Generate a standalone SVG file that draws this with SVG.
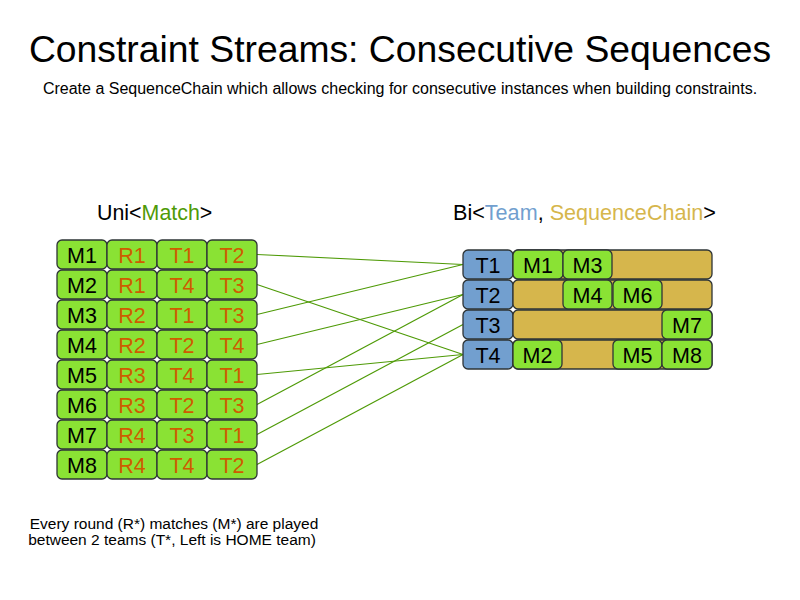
<svg xmlns="http://www.w3.org/2000/svg" width="800" height="600" viewBox="0 0 800 600">
<style>
text{font-family:"Liberation Sans",Arial,sans-serif}
.m{fill:#8ae234;stroke:#2e3436;stroke-width:1.3}
.t{fill:#729fcf;stroke:#2e3436;stroke-width:1.3}
.c{fill:#d6b64c;stroke:#2e3436;stroke-width:1.3}
.lbl{font-size:21.5px;text-anchor:middle;fill:#000}
.o{fill:#ce5c00}
.ln{stroke:#4e9a06;stroke-width:1.2;fill:none}
</style>
<rect width="800" height="600" fill="#fff"/>
<text x="400" y="62" font-size="37.3" text-anchor="middle">Constraint Streams: Consecutive Sequences</text>
<text x="400" y="94" font-size="16" text-anchor="middle">Create a SequenceChain which allows checking for consecutive instances when building constraints.</text>
<text x="97" y="220" font-size="21.4">Uni&lt;<tspan fill="#4e9a06">Match</tspan>&gt;</text>
<text x="453" y="220" font-size="21.6">Bi&lt;<tspan fill="#729fcf">Team</tspan>, <tspan fill="#d6b64c">SequenceChain</tspan>&gt;</text>
<g id="connectors">
<line class="ln" x1="257" y1="254.5" x2="463" y2="264.5"/>
<line class="ln" x1="257" y1="284.5" x2="463" y2="354.5"/>
<line class="ln" x1="257" y1="314.5" x2="463" y2="264.5"/>
<line class="ln" x1="257" y1="344.5" x2="463" y2="294.5"/>
<line class="ln" x1="257" y1="374.5" x2="463" y2="354.5"/>
<line class="ln" x1="257" y1="404.5" x2="463" y2="294.5"/>
<line class="ln" x1="257" y1="434.5" x2="463" y2="324.5"/>
<line class="ln" x1="257" y1="464.5" x2="463" y2="354.5"/>
</g>
<g id="match-M1"><rect class="m" x="57" y="240" width="50" height="29" rx="5"/><rect class="m" x="107" y="240" width="50" height="29" rx="5"/><rect class="m" x="157" y="240" width="50" height="29" rx="5"/><rect class="m" x="207" y="240" width="50" height="29" rx="5"/>
<text class="lbl" x="82" y="262.5">M1</text><text class="lbl o" x="132" y="262.5">R1</text><text class="lbl o" x="182" y="262.5">T1</text><text class="lbl o" x="232" y="262.5">T2</text></g>
<g id="match-M2"><rect class="m" x="57" y="270" width="50" height="29" rx="5"/><rect class="m" x="107" y="270" width="50" height="29" rx="5"/><rect class="m" x="157" y="270" width="50" height="29" rx="5"/><rect class="m" x="207" y="270" width="50" height="29" rx="5"/>
<text class="lbl" x="82" y="292.5">M2</text><text class="lbl o" x="132" y="292.5">R1</text><text class="lbl o" x="182" y="292.5">T4</text><text class="lbl o" x="232" y="292.5">T3</text></g>
<g id="match-M3"><rect class="m" x="57" y="300" width="50" height="29" rx="5"/><rect class="m" x="107" y="300" width="50" height="29" rx="5"/><rect class="m" x="157" y="300" width="50" height="29" rx="5"/><rect class="m" x="207" y="300" width="50" height="29" rx="5"/>
<text class="lbl" x="82" y="322.5">M3</text><text class="lbl o" x="132" y="322.5">R2</text><text class="lbl o" x="182" y="322.5">T1</text><text class="lbl o" x="232" y="322.5">T3</text></g>
<g id="match-M4"><rect class="m" x="57" y="330" width="50" height="29" rx="5"/><rect class="m" x="107" y="330" width="50" height="29" rx="5"/><rect class="m" x="157" y="330" width="50" height="29" rx="5"/><rect class="m" x="207" y="330" width="50" height="29" rx="5"/>
<text class="lbl" x="82" y="352.5">M4</text><text class="lbl o" x="132" y="352.5">R2</text><text class="lbl o" x="182" y="352.5">T2</text><text class="lbl o" x="232" y="352.5">T4</text></g>
<g id="match-M5"><rect class="m" x="57" y="360" width="50" height="29" rx="5"/><rect class="m" x="107" y="360" width="50" height="29" rx="5"/><rect class="m" x="157" y="360" width="50" height="29" rx="5"/><rect class="m" x="207" y="360" width="50" height="29" rx="5"/>
<text class="lbl" x="82" y="382.5">M5</text><text class="lbl o" x="132" y="382.5">R3</text><text class="lbl o" x="182" y="382.5">T4</text><text class="lbl o" x="232" y="382.5">T1</text></g>
<g id="match-M6"><rect class="m" x="57" y="390" width="50" height="29" rx="5"/><rect class="m" x="107" y="390" width="50" height="29" rx="5"/><rect class="m" x="157" y="390" width="50" height="29" rx="5"/><rect class="m" x="207" y="390" width="50" height="29" rx="5"/>
<text class="lbl" x="82" y="412.5">M6</text><text class="lbl o" x="132" y="412.5">R3</text><text class="lbl o" x="182" y="412.5">T2</text><text class="lbl o" x="232" y="412.5">T3</text></g>
<g id="match-M7"><rect class="m" x="57" y="420" width="50" height="29" rx="5"/><rect class="m" x="107" y="420" width="50" height="29" rx="5"/><rect class="m" x="157" y="420" width="50" height="29" rx="5"/><rect class="m" x="207" y="420" width="50" height="29" rx="5"/>
<text class="lbl" x="82" y="442.5">M7</text><text class="lbl o" x="132" y="442.5">R4</text><text class="lbl o" x="182" y="442.5">T3</text><text class="lbl o" x="232" y="442.5">T1</text></g>
<g id="match-M8"><rect class="m" x="57" y="450" width="50" height="29" rx="5"/><rect class="m" x="107" y="450" width="50" height="29" rx="5"/><rect class="m" x="157" y="450" width="50" height="29" rx="5"/><rect class="m" x="207" y="450" width="50" height="29" rx="5"/>
<text class="lbl" x="82" y="472.5">M8</text><text class="lbl o" x="132" y="472.5">R4</text><text class="lbl o" x="182" y="472.5">T4</text><text class="lbl o" x="232" y="472.5">T2</text></g>
<g id="team-T1"><rect class="t" x="463" y="250" width="50" height="29" rx="5"/><rect class="c" x="513" y="250" width="199" height="29" rx="5"/>
<rect class="m" x="513" y="250" width="50" height="29" rx="5"/><rect class="m" x="563" y="250" width="49" height="29" rx="5"/>
<text class="lbl" x="488" y="272.5">T1</text><text class="lbl" x="538" y="272.5">M1</text><text class="lbl" x="587.5" y="272.5">M3</text></g>
<g id="team-T2"><rect class="t" x="463" y="280" width="50" height="29" rx="5"/><rect class="c" x="513" y="280" width="199" height="29" rx="5"/>
<rect class="m" x="563" y="280" width="49" height="29" rx="5"/><rect class="m" x="613" y="280" width="49" height="29" rx="5"/>
<text class="lbl" x="488" y="302.5">T2</text><text class="lbl" x="587.5" y="302.5">M4</text><text class="lbl" x="637.5" y="302.5">M6</text></g>
<g id="team-T3"><rect class="t" x="463" y="310" width="50" height="29" rx="5"/><rect class="c" x="513" y="310" width="199" height="29" rx="5"/>
<rect class="m" x="662" y="310" width="50" height="29" rx="5"/>
<text class="lbl" x="488" y="332.5">T3</text><text class="lbl" x="687" y="332.5">M7</text></g>
<g id="team-T4"><rect class="t" x="463" y="340" width="50" height="29" rx="5"/><rect class="c" x="513" y="340" width="199" height="29" rx="5"/>
<rect class="m" x="513" y="340" width="49" height="29" rx="5"/><rect class="m" x="613" y="340" width="49" height="29" rx="5"/><rect class="m" x="662" y="340" width="50" height="29" rx="5"/>
<text class="lbl" x="488" y="362.5">T4</text><text class="lbl" x="537.5" y="362.5">M2</text><text class="lbl" x="637.5" y="362.5">M5</text><text class="lbl" x="687" y="362.5">M8</text></g>
<text font-size="15.5" text-anchor="middle"><tspan x="174" y="529">Every round (R*) matches (M*) are played</tspan><tspan x="172" y="545">between 2 teams (T*, Left is HOME team)</tspan></text>
</svg>
